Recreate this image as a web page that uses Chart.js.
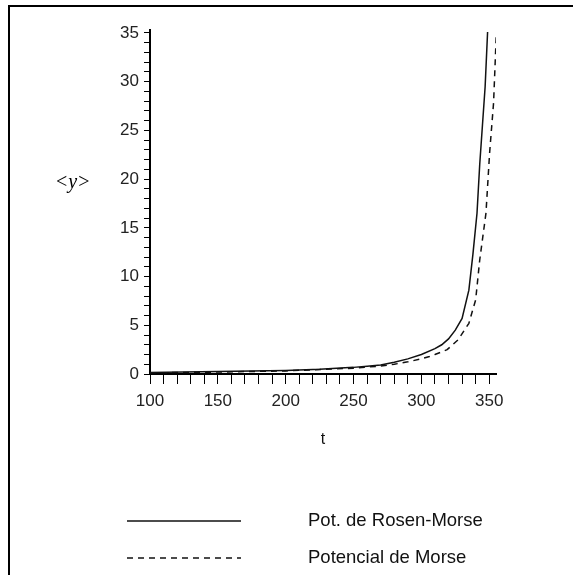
<!DOCTYPE html>
<html>
<head>
<meta charset="utf-8">
<script src="https://cdn.jsdelivr.net/npm/chart.js@4.4.0/dist/chart.umd.min.js"></script>
<style>
  html, body { margin: 0; padding: 0; background: #fff; }
  #wrap { width: 575px; height: 575px; }
</style>
</head>
<body>
<div id="wrap"><canvas id="c" width="575" height="575"></canvas></div>
<script>
// ---- data ----
const seriesLabels = ['Pot. de Rosen-Morse', 'Potencial de Morse'];
const rosenT = [100, 125, 150, 175, 200, 225, 250, 260, 270, 280, 290, 300, 310, 315, 320, 325, 330, 335, 338, 341, 343, 345, 347, 348.8];
const rosenY = [0.15, 0.2, 0.25, 0.3, 0.36, 0.48, 0.68, 0.8, 0.93, 1.2, 1.55, 2.0, 2.6, 3.0, 3.6, 4.5, 5.7, 8.6, 12.3, 16.5, 21.5, 25.5, 29.5, 35.1];
const morseT = [100, 150, 200, 250, 270, 280, 290, 300, 306, 310, 319, 327, 335, 340, 343, 347.6, 350.3, 353.2, 355.2];
const morseY = [0.12, 0.2, 0.32, 0.6, 0.82, 1.0, 1.25, 1.55, 1.8, 2.0, 2.5, 3.5, 5.2, 7.6, 11.7, 16.5, 22.7, 27.8, 34.8];
const xTickLabels = [100, 150, 200, 250, 300, 350];
const yTickLabels = [0, 5, 10, 15, 20, 25, 30, 35];
const xTitle = 't';
const yTitleParts = ['<', 'y', '>'];

const toPts = (xs, ys) => xs.map((x, i) => ({ x: x, y: ys[i] }));

const FONT = '"Liberation Sans", Arial, sans-serif';

const decorPlugin = {
  id: 'decor',
  afterDraw(chart) {
    const ctx = chart.ctx;
    ctx.save();
    // frame (top and left)
    ctx.strokeStyle = '#000';
    ctx.lineWidth = 2;
    ctx.beginPath();
    ctx.moveTo(573, 6);
    ctx.lineTo(9, 6);
    ctx.lineTo(9, 575);
    ctx.stroke();

    // y title "<y>"
    ctx.fillStyle = '#000';
    ctx.textBaseline = 'middle';
    ctx.textAlign = 'left';
    let x = 56;
    const yc = 183;
    const fonts = ['20px "Liberation Serif", serif', 'italic 20px "Liberation Serif", serif', '20px "Liberation Serif", serif'];
    yTitleParts.forEach((p, i) => {
      ctx.font = fonts[i];
      ctx.fillText(p, x, yc);
      x += ctx.measureText(p).width + 1;
    });

    // legend
    const rows = [521, 558];
    chart.data.datasets.forEach((ds, i) => {
      const y = rows[i];
      ctx.strokeStyle = ds.borderColor;
      ctx.lineWidth = ds.borderWidth;
      ctx.setLineDash(ds.borderDash || []);
      ctx.beginPath();
      ctx.moveTo(127, y);
      ctx.lineTo(241, y);
      ctx.stroke();
      ctx.setLineDash([]);
      ctx.font = '18.5px ' + FONT;
      ctx.fillStyle = '#111';
      ctx.textAlign = 'left';
      ctx.textBaseline = 'middle';
      ctx.fillText(ds.label, 308, y);
    });
    ctx.restore();
  }
};

new Chart(document.getElementById('c'), {
  type: 'line',
  data: {
    datasets: [
      { label: seriesLabels[0], data: toPts(rosenT, rosenY), borderColor: '#111', borderWidth: 1.5, pointRadius: 0, tension: 0, fill: false },
      { label: seriesLabels[1], data: toPts(morseT, morseY), borderColor: '#111', borderWidth: 1.5, borderDash: [6, 5], pointRadius: 0, tension: 0, fill: false }
    ]
  },
  options: {
    responsive: false,
    animation: false,
    layout: { padding: { left: 90, right: 79, top: 30, bottom: 126 } },
    plugins: { legend: { display: false }, tooltip: { enabled: false } },
    scales: {
      x: {
        type: 'linear', min: 100, max: 355,
        afterFit: s => { s.height = 75; },
        border: { display: true, color: '#000', width: 2 },
        grid: { drawOnChartArea: false, drawTicks: true, tickLength: 10, color: '#000', lineWidth: 1 },
        ticks: {
          stepSize: 10, autoSkip: false, includeBounds: false, maxRotation: 0, padding: 7,
          color: '#222', font: { family: FONT, size: 17 },
          callback: v => xTickLabels.includes(v) ? String(v) : ''
        },
        title: { display: true, text: xTitle, color: '#111', font: { family: FONT, size: 16 }, padding: { top: 0, bottom: 0 } }
      },
      y: {
        type: 'linear', min: 0, max: 35.3,
        afterFit: s => { s.width = 60; },
        border: { display: true, color: '#000', width: 2 },
        grid: { drawOnChartArea: false, drawTicks: true, tickLength: 6, color: '#000', lineWidth: 1 },
        ticks: {
          stepSize: 1, autoSkip: false, includeBounds: false, padding: 5,
          color: '#222', font: { family: FONT, size: 17 },
          callback: v => yTickLabels.includes(v) ? String(v) : ''
        }
      }
    }
  },
  plugins: [decorPlugin]
});
</script>
</body>
</html>
